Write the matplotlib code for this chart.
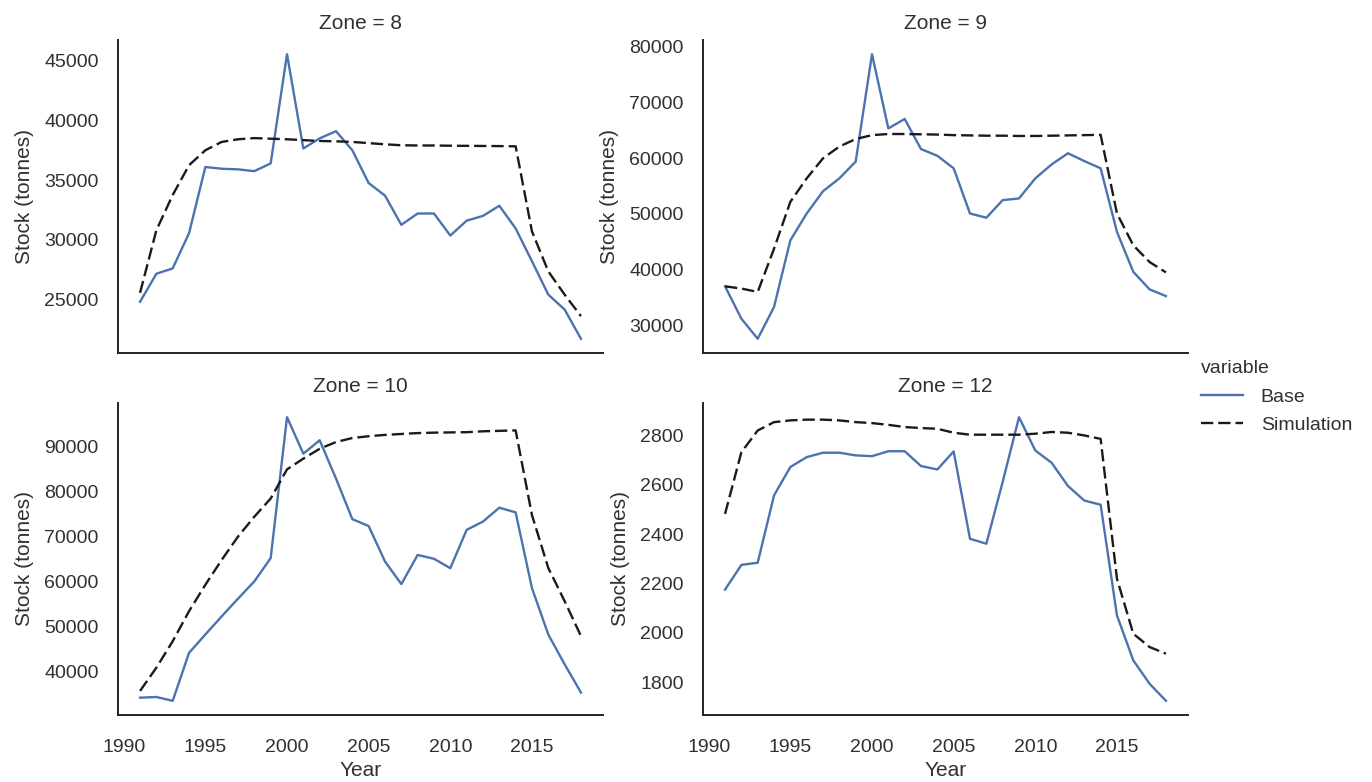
import matplotlib
matplotlib.use("Agg")
import matplotlib.pyplot as plt
from matplotlib.lines import Line2D

plt.rcParams["font.family"] = ["Liberation Sans", "DejaVu Sans"]

years = list(range(1991, 2019))

zone8_base = [24800, 27150, 27600, 30550, 36100, 35950, 35900, 35750, 36400, 45550,
              37650, 38500, 39100, 37500, 34750, 33700, 31250, 32200, 32200, 30350,
              31600, 32000, 32850, 30950, 28200, 25400, 24150, 21700]
zone8_sim = [25550, 30800, 33750, 36250, 37500, 38200, 38420, 38520, 38470, 38420,
             38350, 38280, 38250, 38200, 38100, 38000, 37920, 37900, 37900, 37880,
             37870, 37860, 37850, 37830, 30700, 27350, 25400, 23600]

zone9_base = [37000, 31200, 27600, 33300, 45250, 50050, 54050, 56350, 59350, 78600,
              65300, 67000, 61600, 60400, 58150, 50050, 49300, 52450, 52750, 56350,
              58850, 60850, 59450, 58150, 46750, 39600, 36450, 35250]
zone9_sim = [37000, 36600, 36000, 43750, 52150, 56350, 59950, 62050, 63400, 64100,
             64300, 64300, 64250, 64200, 64100, 64050, 64000, 64000, 63950, 63950,
             64000, 64050, 64100, 64150, 50050, 44350, 41350, 39500]

zone10_base = [34050, 34200, 33350, 44050, 48150, 52200, 56150, 60000, 65200, 96650,
               88500, 91500, 82950, 73900, 72350, 64450, 59400, 65900, 65050, 62950,
               71500, 73350, 76450, 75400, 58500, 48150, 41500, 35200]
zone10_sim = [35550, 40750, 46650, 53350, 59250, 64800, 70000, 74450, 78500, 85000,
              87400, 89600, 91100, 92000, 92400, 92700, 92900, 93100, 93200, 93250,
              93300, 93500, 93600, 93700, 74800, 63000, 55600, 47800]

zone12_base = [2175, 2275, 2284, 2557, 2672, 2712, 2730, 2730, 2719, 2716,
               2736, 2736, 2676, 2662, 2735, 2381, 2361, 2611, 2874, 2739,
               2689, 2595, 2536, 2519, 2070, 1888, 1793, 1724]
zone12_sim = [2482, 2732, 2820, 2854, 2861, 2864, 2864, 2861, 2854, 2850,
              2843, 2834, 2830, 2827, 2811, 2803, 2803, 2803, 2803, 2807,
              2814, 2811, 2800, 2786, 2219, 1996, 1942, 1915]

zones = ["8", "9", "10", "12"]
base_series = [zone8_base, zone9_base, zone10_base, zone12_base]
sim_series = [zone8_sim, zone9_sim, zone10_sim, zone12_sim]

W, H = 1372, 782
fig = plt.figure(figsize=(W / 100, H / 100), dpi=100)

# panel boxes in pixels: left, top, right, bottom
boxes = [(118, 40, 603, 353), (703, 40, 1188, 353),
         (118, 403, 603, 715), (703, 403, 1188, 715)]

text_col = "#303030"
base_col = "#4c72b0"
sim_col = "#1a1a1a"
tick_fs = 14
label_fs = 15
lw = 1.7
dash = (5.2, 2.1)

axes = []
for i, (l, t, r, b) in enumerate(boxes):
    ax = fig.add_axes([l / W, 1 - b / H, (r - l) / W, (b - t) / H],
                      sharex=axes[0] if axes else None)
    axes.append(ax)
    ax.plot(years, base_series[i], color=base_col, lw=lw, label="Base")
    ax.plot(years, sim_series[i], color=sim_col, lw=lw, dashes=dash,
            label="Simulation")
    for side in ("top", "right"):
        ax.spines[side].set_visible(False)
    for side in ("left", "bottom"):
        ax.spines[side].set_color("#222222")
        ax.spines[side].set_linewidth(1.4)
    ax.tick_params(axis="both", length=0, labelsize=tick_fs, labelcolor=text_col)
    ax.tick_params(axis="y", pad=14)
    ax.tick_params(axis="x", pad=17)
    ax.set_title(f"Zone = {zones[i]}", fontsize=label_fs, color=text_col, pad=8)
    ax.set_ylabel("Stock (tonnes)", fontsize=label_fs, color=text_col, labelpad=7)
    if i < 2:
        ax.tick_params(axis="x", labelbottom=False)
    else:
        ax.set_xlabel("Year", fontsize=label_fs, color=text_col, labelpad=4)

axes[0].set_xticks([1990, 1995, 2000, 2005, 2010, 2015])
axes[0].set_yticks([25000, 30000, 35000, 40000, 45000])
axes[1].set_yticks([30000, 40000, 50000, 60000, 70000, 80000])
axes[2].set_yticks([40000, 50000, 60000, 70000, 80000, 90000])
axes[3].set_yticks([1800, 2000, 2200, 2400, 2600, 2800])

handles = [Line2D([], [], color=base_col, lw=lw),
           Line2D([], [], color=sim_col, lw=lw, dashes=dash)]
leg = fig.legend(handles, ["Base", "Simulation"], title="variable",
                 loc="center left", bbox_to_anchor=(1183 / W, 1 - 397 / H),
                 frameon=False, fontsize=tick_fs, title_fontsize=tick_fs,
                 handlelength=2.2, labelspacing=0.55, handletextpad=0.9)
leg._legend_box.align = "left"
for txt in leg.get_texts():
    txt.set_color(text_col)
leg.get_title().set_color(text_col)

fig.savefig("out.png", dpi=100, facecolor="white")
